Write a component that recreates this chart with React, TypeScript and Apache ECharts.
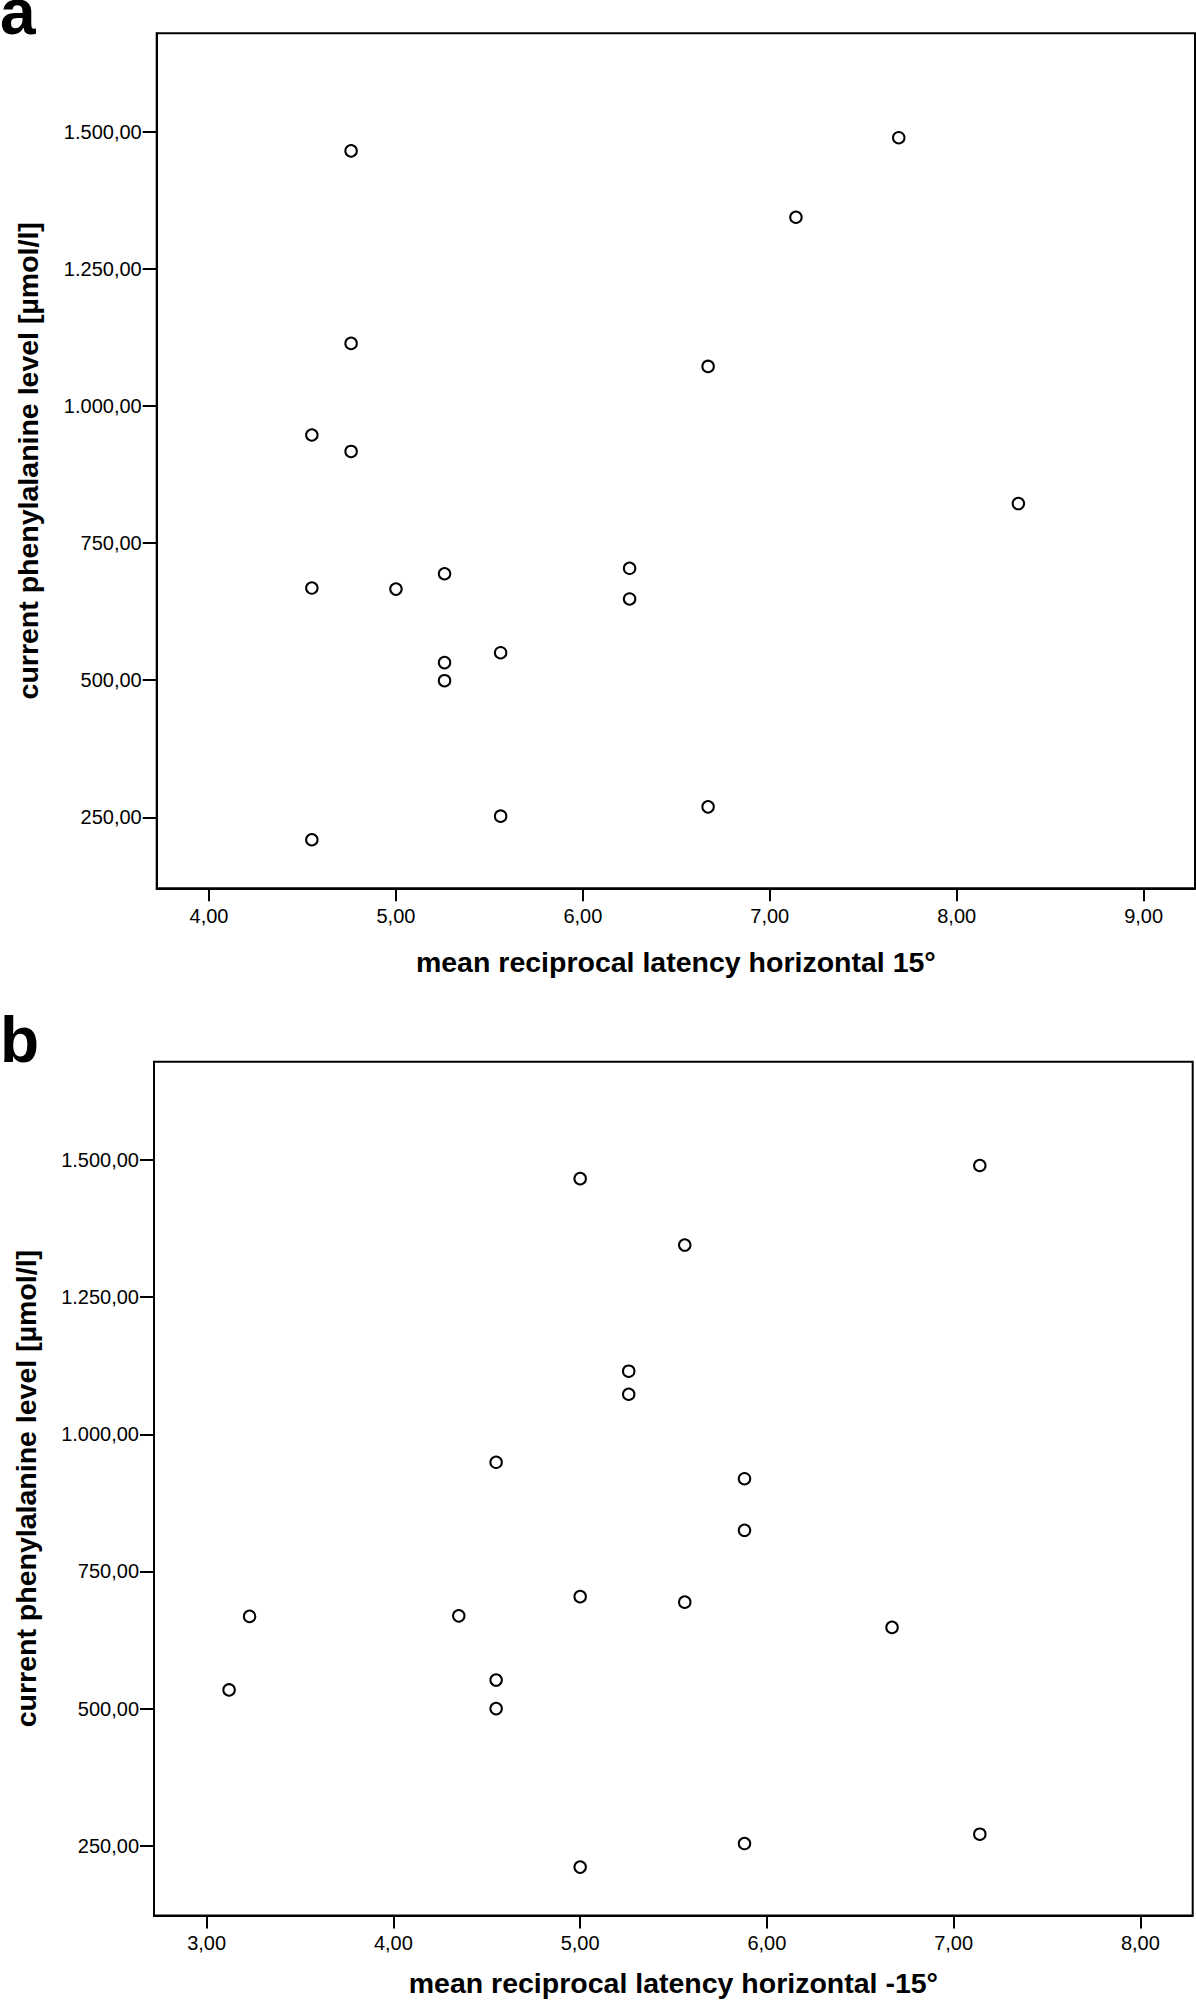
import React, { useEffect, useRef } from "react";
import * as echarts from "echarts";

// ---- tick values / labels ----
const yTickValues = [250, 500, 750, 1000, 1250, 1500];
const yTickLabels = ["250,00", "500,00", "750,00", "1.000,00", "1.250,00", "1.500,00"];

const xTickValuesA = [4, 5, 6, 7, 8, 9];
const xTickLabelsA = ["4,00", "5,00", "6,00", "7,00", "8,00", "9,00"];

const xTickValuesB = [3, 4, 5, 6, 7, 8];
const xTickLabelsB = ["3,00", "4,00", "5,00", "6,00", "7,00", "8,00"];

// ---- panel a: horizontal 15° ----
const latencyA = [4.76, 4.76, 4.55, 4.76, 4.55, 5.0, 5.26, 5.26, 5.26, 5.56, 5.56, 4.55, 7.69, 7.14, 6.67, 8.33, 6.25, 6.25, 6.67];
const pheA = [1465, 1114, 947, 917, 668, 666, 694, 532, 499, 550, 252, 209, 1489, 1344, 1072, 822, 704, 648, 269];

// ---- panel b: horizontal -15° ----
const latencyB = [5.0, 4.55, 3.23, 3.12, 4.35, 4.55, 4.55, 5.0, 5.0, 7.14, 5.56, 5.26, 5.26, 5.88, 5.88, 5.56, 6.67, 7.14, 5.88];
const pheB = [1466, 949, 668, 534, 669, 552, 500, 704, 211, 1490, 1345, 1115, 1073, 919, 825, 694, 648, 271, 254];

const yTitle = "current phenylalanine level [µmol/l]";
const xTitleA = "mean reciprocal latency horizontal 15°";
const xTitleB = "mean reciprocal latency horizontal -15°";
const panelLetters = ["a", "b"];

const FONT = "'Liberation Sans', Arial, Helvetica, sans-serif";

function labelFor(values: number[], labels: string[]) {
  return (v: number) => {
    const i = values.findIndex((t) => Math.abs(t - v) < 1e-6);
    return i >= 0 ? labels[i] : "";
  };
}

function makeXAxis(gridIndex: number, min: number, max: number, ticks: number[], labels: string[], name: string, nameGap: number, labelMargin: number) {
  return {
    gridIndex,
    type: "value",
    min,
    max,
    name,
    nameLocation: "middle",
    nameGap,
    nameTextStyle: { fontFamily: FONT, fontSize: 28.5, fontWeight: "bold", color: "#000" },
    axisLine: { show: true, onZero: false, lineStyle: { color: "#000", width: 2 } },
    axisTick: { show: true, customValues: ticks, length: 13, lineStyle: { color: "#000", width: 2 } },
    axisLabel: {
      show: true,
      customValues: ticks,
      formatter: labelFor(ticks, labels),
      margin: labelMargin,
      fontSize: 20,
      fontFamily: FONT,
      color: "#000",
    },
    splitLine: { show: false },
  };
}

function makeYAxis(gridIndex: number, min: number, max: number, nameGap: number) {
  return {
    gridIndex,
    type: "value",
    min,
    max,
    name: yTitle,
    nameLocation: "middle",
    nameGap,
    nameTextStyle: { fontFamily: FONT, fontSize: 28.5, fontWeight: "bold", color: "#000" },
    axisLine: { show: true, onZero: false, lineStyle: { color: "#000", width: 2 } },
    axisTick: { show: true, customValues: yTickValues, length: 14, lineStyle: { color: "#000", width: 2 } },
    axisLabel: {
      show: true,
      customValues: yTickValues,
      formatter: labelFor(yTickValues, yTickLabels),
      margin: 15,
      fontSize: 20,
      fontFamily: FONT,
      color: "#000",
    },
    splitLine: { show: false },
  };
}

function scatter(idx: number, xs: number[], ys: number[]) {
  return {
    type: "scatter",
    xAxisIndex: idx,
    yAxisIndex: idx,
    data: xs.map((x, i) => [x, ys[i]]),
    symbol: "circle",
    symbolSize: 11.5,
    itemStyle: { color: "#fff", borderColor: "#000", borderWidth: 2, opacity: 1 },
    emphasis: { disabled: true },
    silent: true,
  };
}

export default function App() {
  const ref = useRef<HTMLDivElement>(null);

  useEffect(() => {
    if (!ref.current) return;
    const chart = echarts.init(ref.current, null, { renderer: "svg" });
    chart.setOption({
      animation: false,
      backgroundColor: "#fff",
      grid: [
        { left: 156.7, top: 33.3, width: 1038.3, height: 855, show: true, borderColor: "#000", borderWidth: 2, containLabel: false },
        { left: 154, top: 1061.7, width: 1038.7, height: 853.8, show: true, borderColor: "#000", borderWidth: 2, containLabel: false },
      ],
      xAxis: [
        makeXAxis(0, 3.72, 9.275, xTickValuesA, xTickLabelsA, xTitleA, 59, 17.5),
        makeXAxis(1, 2.718, 8.28, xTickValuesB, xTickLabelsB, xTitleB, 53, 17.5),
      ],
      yAxis: [makeYAxis(0, 120.5, 1679.4, 114), makeYAxis(1, 122.8, 1679.2, 114)],
      series: [scatter(0, latencyA, pheA), scatter(1, latencyB, pheB)],
      graphic: [
        {
          type: "text",
          x: 0,
          y: 11.5,
          style: { text: panelLetters[0], font: `bold 64px ${FONT}`, fill: "#000", verticalAlign: "middle", align: "left" },
        },
        {
          type: "text",
          x: 0,
          y: 1039.5,
          style: { text: panelLetters[1], font: `bold 64px ${FONT}`, fill: "#000", verticalAlign: "middle", align: "left" },
        },
      ],
    });
    return () => chart.dispose();
  }, []);

  return (
    <div
      ref={ref}
      style={{ position: "absolute", left: 0, top: 0, width: 1196, height: 2005, background: "#fff" }}
    />
  );
}
